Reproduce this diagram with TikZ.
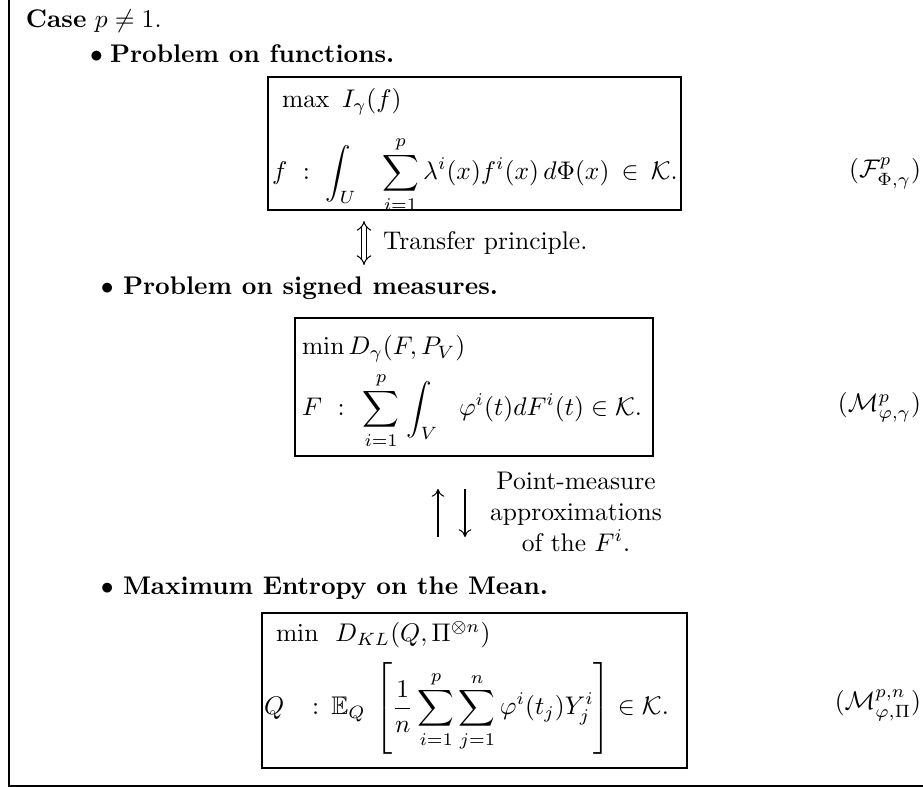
\documentclass[tikz,border=0pt]{standalone}
\usepackage{amsmath,amssymb}
\usetikzlibrary{arrows.meta,fit}
\begin{document}
\begin{tikzpicture}[x=0.39216pt,y=-0.39216pt,
  every node/.style={inner sep=0pt, outer sep=0pt},
  txt/.style={anchor=base west},
  lbl/.style={anchor=base east},
  boxst/.style={draw, line width=0.4pt, inner sep=0pt},
  frame/.style={line width=0.4pt},
  dblarrow/.style={double, double distance=1.6pt, line width=0.4pt, {Implies}-{Implies}},
  sgarrow/.style={line width=0.4pt, -{To[length=3pt,width=5pt]}}]
\useasboundingbox (0,0) rectangle (923,787);
% outer frame (left and bottom sides visible)
\coordinate (ftl) at (9,0);
\coordinate (fbl) at (9,786);
\coordinate (fbr) at (923,786);
\draw[frame] (ftl) -- (fbl) -- (fbr);

\node[txt] (case) at (26,28) {\textbf{Case} $p\neq 1$.};

% item 1
\node[txt] (bul1) at (90,63) {$\bullet$};
\node[txt] (it1) at (110,63) {\textbf{Problem on functions.}};
\node[boxst, fit={(268,77) (681,210)}] (box1) {};
\node[txt] (max1) at (282,108) {$\max\ I_\gamma(f)$};
\node[txt] (con1) at (272,180) {$f\ :\ \displaystyle\int_U\hspace{8.3pt}\sum_{i=1}^p\lambda^i(x)f^i(x)\,d\Phi(x)\hspace{2pt}\in\hspace{2pt}\mathcal{K}.$};
\node[lbl] (lab1) at (921,178) {$(\mathcal{F}^p_{\Phi,\gamma})$};

% transfer principle
\coordinate (ta) at (364,221);
\coordinate (tb) at (364,265);
\draw[dblarrow] (ta) -- (tb);
\node[txt] (tr) at (383,250) {Transfer principle.};

% item 2
\node[txt] (bul2) at (101,295) {$\bullet$};
\node[txt] (it2) at (123,295) {\textbf{Problem on signed measures.}};
\node[boxst, fit={(295,318) (653,456)}] (box2) {};
\node[txt] (min2) at (302,355) {$\min D_\gamma(F,P_V)$};
\node[txt] (con2) at (302,416) {$F\ :\ \hspace{1pt}\displaystyle\sum_{i=1}^p\hspace{1pt}\int_V\hspace{6.5pt}\varphi^i(t)dF^i(t)\in\mathcal{K}.$};
\node[lbl] (lab2) at (921,412) {$(\mathcal{M}^p_{\varphi,\gamma})$};

% point-measure approximations
\coordinate (ua) at (438,537);
\coordinate (ub) at (438,489);
\draw[sgarrow] (ua) -- (ub);
\coordinate (da) at (465,489);
\coordinate (db) at (465,537);
\draw[sgarrow] (da) -- (db);
\node[align=center] (pm) at (576,512) {Point-measure\\approximations\\of the $F^i$.};

% item 3
\node[txt] (bul3) at (101,595) {$\bullet$};
\node[txt] (it3) at (123,595) {\textbf{Maximum Entropy on the Mean.}};
\node[boxst, fit={(262,613) (687,768)}] (box3) {};
\node[txt] (min3) at (276,642) {$\min\hspace{5pt}D_{KL}(Q,\Pi^{\otimes n})$};
\node[txt] (con3) at (264,715) {$Q\hspace{8.2pt}:\hspace{2pt}\displaystyle\mathbb{E}_Q\hspace{2pt}\left[\frac{1}{n}\sum_{i=1}^p\sum_{j=1}^n\varphi^i(t_j)Y^i_j\right]\in\mathcal{K}.$};
\node[lbl] (lab3) at (921,710) {$(\mathcal{M}^{p,n}_{\varphi,\Pi})$};
\end{tikzpicture}
\end{document}
